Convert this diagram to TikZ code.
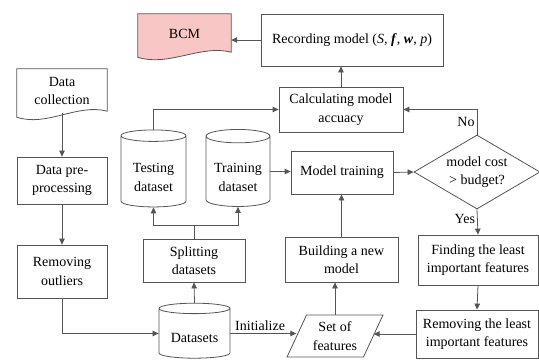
\documentclass[tikz,border=0pt]{standalone}
\usepackage{fontspec}
\setmainfont{Liberation Serif}
\usetikzlibrary{shapes.geometric,arrows.meta,backgrounds}
\definecolor{ln}{HTML}{555555}
\definecolor{pinkf}{HTML}{F9C6C6}
\newcommand{\cyltext}[2]{\raisebox{#1}[\height][\depth]{\begin{tabular}{@{}c@{}}#2\end{tabular}}}
\begin{document}
\begin{tikzpicture}[x=1pt,y=-1pt,
  font=\fontsize{14}{18.5}\selectfont,
  box/.style={draw=ln, line width=.8pt, align=center, inner sep=0pt},
  docn/.style={align=center, inner sep=0pt},
  cyl/.style={cylinder, shape border rotate=90, draw=ln, line width=.8pt, aspect=0.28, align=center, inner sep=0pt},
  arr/.style={draw=ln, line width=.8pt, -{Triangle[length=6pt,width=5.5pt]}},
  lbl/.style={inner sep=2pt, font=\fontsize{14}{18.5}\selectfont}]
\useasboundingbox (0,0) rectangle (539,362);

% document-shaped nodes
\node[docn, minimum width=93pt, minimum height=40pt] (bcm) at (184.5,34) {BCM};
\node[docn, minimum width=90pt, minimum height=44pt] (dc) at (62,91) {Data\\collection};
\begin{scope}[on background layer]
\draw[draw=ln, line width=.8pt, fill=pinkf] (bcm.north west) -- (bcm.north east) -- ([yshift=2pt]bcm.south east)
  .. controls +(-30pt,8pt) and +(30pt,-10pt) .. ([yshift=-3pt]bcm.south west) -- cycle;
\draw[draw=ln, line width=.8pt, fill=white] (dc.north west) -- (dc.north east) -- ([yshift=2pt]dc.south east)
  .. controls +(-30pt,8pt) and +(30pt,-10pt) .. ([yshift=-4pt]dc.south west) -- cycle;
\end{scope}

% boxes
\node[box, minimum width=182pt, minimum height=52pt] (rec) at (352,40) {Recording model (\textit{S}, \textbf{\textit{f}}, \textbf{\textit{w}}, \textit{p})};
\node[box, minimum width=124pt, minimum height=45pt] (calc) at (341,109.5) {Calculating model\\accuacy};
\node[box, minimum width=102pt, minimum height=43pt] (mt) at (342,172.5) {Model training};
\node[box, minimum width=90pt, minimum height=47pt] (dp) at (62,180.5) {Data pre-\\processing};
\node[box, minimum width=90pt, minimum height=53pt] (ro) at (62,271.5) {Removing\\outliers};
\node[box, minimum width=102pt, minimum height=43pt] (split) at (194,260.5) {Splitting\\datasets};
\node[box, minimum width=113pt, minimum height=45pt] (build) at (341.5,259.5) {Building a new\\model};
\node[box, minimum width=120pt, minimum height=50pt] (find) at (478,260) {Finding the least\\important features};
\node[box, minimum width=122pt, minimum height=48pt] (rmf) at (477,334) {Removing the least\\important features};

% cylinders
\node[cyl, minimum width=65pt, minimum height=77pt] (test) at (153.5,171.5) {\cyltext{-7pt}{Testing\\dataset}};
\node[cyl, minimum width=64pt, minimum height=77pt] (train) at (238,171.5) {\cyltext{-7pt}{Training\\dataset}};
\node[cyl, minimum width=71pt, minimum height=55pt, aspect=0.22] (ds) at (194.5,333.5) {\cyltext{-5pt}{Datasets}};

% decision
\node[diamond, draw=ln, line width=.8pt, minimum width=126pt, minimum height=74pt, inner sep=0pt] (dia) at (477,172) {};
\node[docn] (diat) at (dia.center) {model cost\\> budget?};

% set of features
\node[trapezium, trapezium left angle=62, trapezium right angle=118, trapezium stretches=true,
      draw=ln, line width=.8pt, minimum width=96pt, minimum height=42pt, align=center, inner sep=0pt] (sof) at (335,336) {Set of\\features};

% connectors
\draw[arr] (rec.west) -- (rec.west -| bcm.east);
\draw[arr] (calc.north) -- (calc.north |- rec.south);
\draw[arr] (test.north) |- (calc.west);
\draw[arr] (dia.north) |- node[lbl, pos=0.25, left] {No} (calc.east);
\draw[arr] (train.east) -- (train.east -| mt.west);
\draw[arr] (mt.east) -- (dia.west);
\draw[arr] (dia.south) -- node[lbl, left, pos=0.4] {Yes} (find.north);
\draw[arr] (find.south) -- (rmf.north);
\draw[arr] (rmf.west) -- (rmf.west -| sof.east);
\draw[arr] (sof.north) -- (sof.north |- build.south);
\draw[arr] (build.north) -- (build.north |- mt.south);
\draw[arr] (ds.north) -- (split.south);
\coordinate (sj) at (194,225);
\draw[draw=ln, line width=.8pt] (split.north) -- (sj);
\draw[arr] (sj) -| (test.south);
\draw[arr] (sj) -| (train.south);
\draw[arr] (dc.south) -- (dp.north);
\draw[arr] (dp.south) -- (ro.north);
\draw[arr] (ro.south) |- (ds.west);
\draw[arr] (ds.east) -- node[lbl, above, pos=0.45] {Initialize} (ds.east -| sof.west);
\end{tikzpicture}
\end{document}
